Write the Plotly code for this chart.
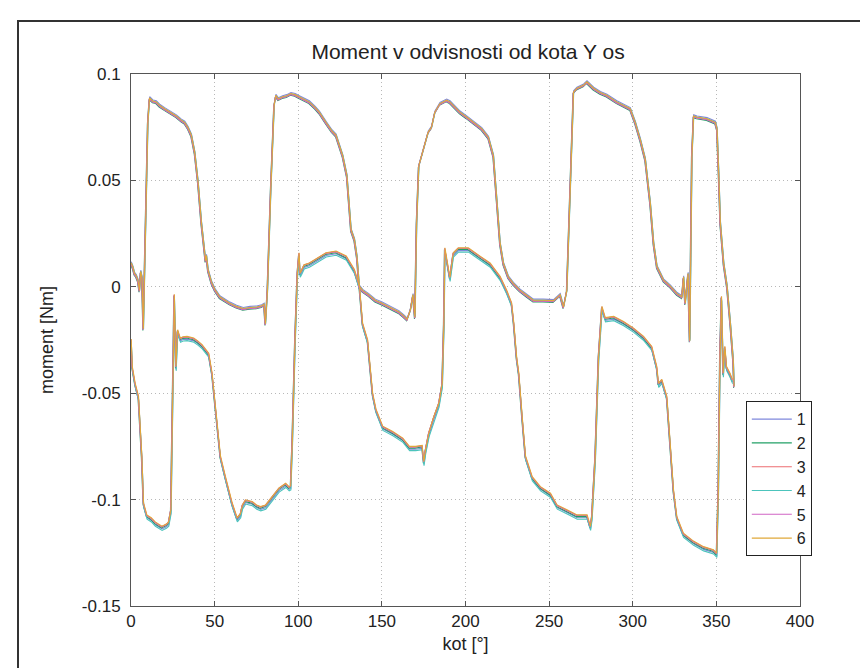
import plotly.graph_objects as go

# ---- data ----
UPPER_X = [0, 1, 2, 3, 4, 5, 5.7, 6.5, 7.3, 8.3, 9, 10, 11, 13, 15, 17, 20, 23, 27, 30, 32, 34, 36, 38, 40, 42,
           43.5, 44.5, 45, 46, 48, 50, 53, 56, 59, 63, 67, 71, 75, 78, 79.5, 80.3, 81.5, 83.5, 85.5, 86.5, 88,
           90.5, 93, 95.5, 98, 100.5, 103, 106.5, 110, 112.5, 116.5, 120, 122.5, 126.5, 129, 130.5, 131.5, 133.5,
           135, 136.4, 138.4, 142, 146, 150, 156, 160, 163, 165, 167, 168.5, 169.7, 170.7, 172, 174.6, 177.6,
           179.6, 181.6, 184.6, 188.6, 190.6, 193.6, 196.6, 200.6, 204.6, 209.6, 213.6, 216.6, 218.6, 220.6,
           222.6, 225.5, 228.5, 232.5, 236.5, 240.5, 246.5, 252.5, 256.5, 258.5, 260.5, 262.5, 264.5, 266.5,
           270.5, 272.5, 276.5, 280.5, 284.4, 290.4, 294.4, 298.4, 301.4, 304.4, 307.4, 310.4, 312.4, 314.4,
           318.4, 322.4, 326.4, 329.3, 330.3, 331.3, 333, 334, 335.3, 336.3, 338.3, 344.3, 349.3, 350.3, 351.3,
           352.3, 354.3, 356.3, 358.3, 360, 360.5]
UPPER_Y = [0.011, 0.009, 0.006, 0.005, 0.003, -0.002, 0.007, 0.004, -0.02, 0.02, 0.05, 0.077, 0.0885, 0.087,
           0.0866, 0.085, 0.0834, 0.082, 0.080, 0.078, 0.077, 0.0745, 0.071, 0.063, 0.049, 0.030, 0.017, 0.012,
           0.0145, 0.0076, 0.002, -0.0015, -0.005, -0.0065, -0.008, -0.0095, -0.0105, -0.010, -0.0098, -0.0092,
           -0.0085, -0.0177, -0.002, 0.0455, 0.085, 0.0897, 0.088, 0.089, 0.0895, 0.0905, 0.090, 0.089, 0.088,
           0.0866, 0.084, 0.0818, 0.077, 0.073, 0.071, 0.0613, 0.052, 0.0376, 0.0265, 0.022, 0.014, 0.0, -0.002,
           -0.004, -0.0066, -0.008, -0.0105, -0.012, -0.014, -0.0155, -0.011, -0.004, -0.0146, 0.0297, 0.0566,
           0.0645, 0.0724, 0.0747, 0.0818, 0.0858, 0.0874, 0.0866, 0.084, 0.0818, 0.0795, 0.077, 0.074, 0.070,
           0.0613, 0.0408, 0.0202, 0.0107, 0.0044, 0.0013, -0.0019, -0.0043, -0.0066, -0.0066, -0.0068, -0.004,
           -0.0098, -0.002, 0.0455, 0.0913, 0.093, 0.0945, 0.096, 0.093, 0.091, 0.0897, 0.0866, 0.085, 0.0834,
           0.077, 0.069, 0.0597, 0.039, 0.0202, 0.0092, 0.0028, 0.0, -0.0035, -0.005, 0.0044, -0.008, 0.006,
           -0.0256, 0.0613, 0.080, 0.0795, 0.0787, 0.077, 0.074, 0.0534, 0.0297, 0.0107, 0.0, -0.0177, -0.035,
           -0.047]

LOWER_X = [0, 0.7, 2.4, 4.4, 6.4, 7.4, 9.4, 12, 14.4, 18.4, 21, 22.4, 23.8, 24.8, 25.8, 26.8, 27.8, 29.4, 31,
           33.4, 37.4, 40, 42.4, 46.4, 48.4, 50.4, 53.4, 56.4, 60.4, 63.4, 65.4, 66.5, 68.4, 70.5, 72.4, 75, 77.4,
           80.4, 84.4, 88.4, 92.4, 94.4, 95.4, 96.4, 98, 99.4, 100.4, 101, 102, 103.4, 106.5, 110.4, 116.5, 122.5,
           128.6, 133.5, 136.5, 138.4, 141.4, 144.4, 146.4, 150.4, 156.4, 162.4, 166.4, 170, 174, 175, 176, 178,
           181, 184, 186, 187, 187.6, 190.6, 192.6, 195.6, 201.6, 208.6, 214.6, 220.6, 224.5, 227.5, 228.8,
           230.5, 231.8, 233.8, 235.8, 239.8, 244.7, 250.7, 254.7, 260.6, 266.6, 272.6, 274.6, 275.5, 277.5,
           279.5, 281.5, 283.5, 288.5, 294.4, 300.4, 306.4, 311.3, 314.3, 315.3, 317.3, 320.3, 322.3, 324.3,
           326.3, 330.2, 336.2, 342.2, 348.1, 350.1, 351.1, 352.1, 353, 354, 355, 356, 358, 359.5]
LOWER_Y = [-0.025, -0.038, -0.0458, -0.052, -0.080, -0.102, -0.1077, -0.109, -0.111, -0.113, -0.112, -0.111,
           -0.105, -0.049, -0.004, -0.038, -0.0207, -0.0246, -0.024, -0.0238, -0.0246, -0.026, -0.0277, -0.0317,
           -0.041, -0.0567, -0.080, -0.0897, -0.102, -0.109, -0.107, -0.103, -0.1006, -0.101, -0.1014, -0.103,
           -0.1038, -0.103, -0.099, -0.095, -0.0928, -0.0944, -0.094, -0.0724, -0.0254, 0.006, 0.0155, 0.006,
           0.0075, 0.0099, 0.0107, 0.0125, 0.0155, 0.0163, 0.014, 0.0076, 0.0, -0.0176, -0.0254, -0.0505, -0.058,
           -0.066, -0.0685, -0.0716, -0.0755, -0.0755, -0.075, -0.0826, -0.077, -0.069, -0.0614, -0.055, -0.0458,
           -0.0175, 0.0178, 0.004, 0.0155, 0.0178, 0.0178, 0.0139, 0.0107, 0.0044, -0.002, -0.008, -0.0175,
           -0.0335, -0.041, -0.0614, -0.080, -0.0897, -0.0944, -0.0975, -0.103, -0.1053, -0.1077, -0.1077,
           -0.113, -0.108, -0.080, -0.033, -0.0097, -0.015, -0.0144, -0.0168, -0.0199, -0.0238, -0.0285, -0.038,
           -0.0458, -0.044, -0.052, -0.074, -0.096, -0.1085, -0.1163, -0.120, -0.1226, -0.124, -0.1257, -0.096,
           -0.033, -0.005, -0.041, -0.0285, -0.038, -0.041, -0.044]

SERIES_NAMES = ["1", "2", "3", "4", "5", "6"]
SERIES_X_SHIFT = [0.15, -0.2, 0.0, 0.2, -0.1, 0.1]
SERIES_UPPER_OFFSET = [0.0008, -0.0005, 0.0, 0.0002, -0.0002, 0.0003]
SERIES_LOWER_OFFSET = [-0.0008, -0.0003, 0.0002, -0.0015, 0.0003, 0.0005]
SERIES_COLORS = ["#7f88dc", "#22a066", "#ec6c70", "#4cc4bc", "#d064c4", "#e0a838"]

X_TICKS = [0, 50, 100, 150, 200, 250, 300, 350, 400]
Y_TICKS = [0.1, 0.05, 0, -0.05, -0.1, -0.15]
Y_TICK_LABELS = ["0.1", "0.05", "0", "-0.05", "-0.1", "-0.15"]

FONT = "Liberation Sans, Arial, Helvetica, sans-serif"
TXT = "#222222"

fig = go.Figure()
for i, name in enumerate(SERIES_NAMES):
    xs = [x + SERIES_X_SHIFT[i] for x in UPPER_X] + [None] + [x + SERIES_X_SHIFT[i] for x in LOWER_X]
    ys = [y + SERIES_UPPER_OFFSET[i] for y in UPPER_Y] + [None] + [y + SERIES_LOWER_OFFSET[i] for y in LOWER_Y]
    fig.add_trace(go.Scatter(x=xs, y=ys, mode="lines", name=name,
                             line=dict(color=SERIES_COLORS[i], width=1.1),
                             connectgaps=False))

axis_common = dict(
    showline=True, linecolor="#555555", linewidth=1, mirror="ticks",
    ticks="inside", ticklen=5, tickcolor="#555555",
    showgrid=True, gridcolor="#b8b8b8", griddash="1px,3px", gridwidth=1,
    zeroline=False, tickfont=dict(family=FONT, size=17, color=TXT),
)

fig.update_layout(
    width=868, height=668,
    paper_bgcolor="white", plot_bgcolor="white",
    margin=dict(l=123, r=76, t=66, b=70),
    title=dict(text="Moment v odvisnosti od kota Y os", x=0.53, xanchor="center",
               y=1 - 44 / 668, yanchor="middle",
               font=dict(family=FONT, size=21, color=TXT)),
    xaxis=dict(range=[0, 400], tickvals=X_TICKS,
               title=dict(text="kot [°]", font=dict(family=FONT, size=18, color=TXT), standoff=6),
               **axis_common),
    yaxis=dict(range=[-0.15, 0.1], tickvals=Y_TICKS, ticktext=Y_TICK_LABELS, ticklabelstandoff=6,
               title=dict(text="moment [Nm]", font=dict(family=FONT, size=18, color=TXT), standoff=23),
               **axis_common),
    legend=dict(x=0.919, y=0.385, xanchor="left", yanchor="top",
                bgcolor="white", bordercolor="#222222", borderwidth=1,
                font=dict(family=FONT, size=16, color=TXT),
                tracegroupgap=0, itemwidth=40),
    showlegend=True,
    shapes=[dict(type="rect", xref="paper", yref="paper",
                 x0=(10 - 123) / 669, x1=(866 - 123) / 669,
                 y0=(598 - 700) / 532, y1=(598 - 13) / 532,
                 line=dict(color="#333333", width=2), fillcolor="rgba(0,0,0,0)", layer="below")],
)

fig.write_html("out.html")
